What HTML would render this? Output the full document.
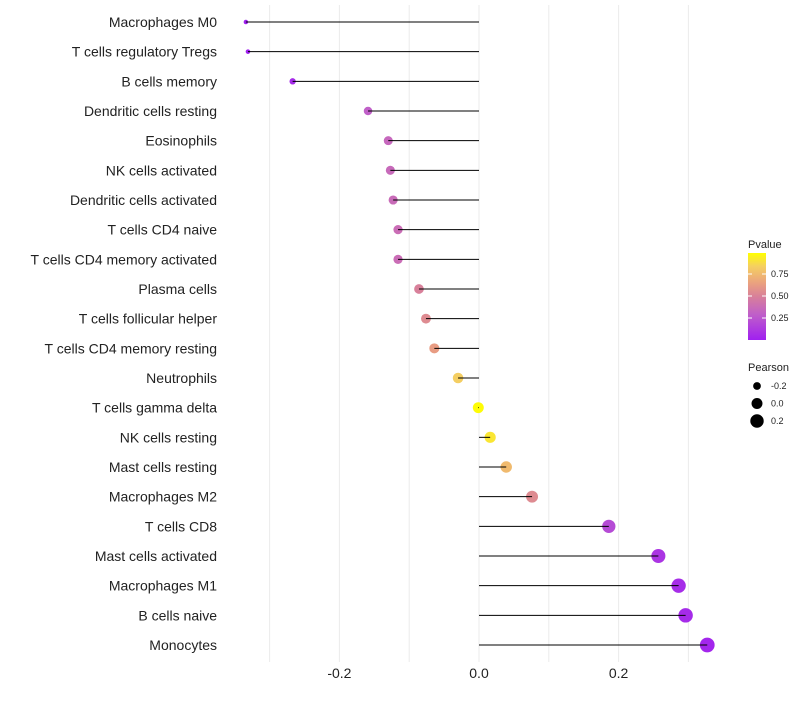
<!DOCTYPE html>
<html><head><meta charset="utf-8"><style>
body{margin:0;background:#fff;}
svg{font-family:"Liberation Sans",Arial,sans-serif;}
</style></head><body>
<svg id="c" width="800" height="700"></svg>
<script>
const categories=["Macrophages M0","T cells regulatory  Tregs","B cells memory","Dendritic cells resting","Eosinophils","NK cells activated","Dendritic cells activated","T cells CD4 naive","T cells CD4 memory activated","Plasma cells","T cells follicular helper","T cells CD4 memory resting","Neutrophils","T cells gamma delta","NK cells resting","Mast cells resting","Macrophages M2","T cells CD8","Mast cells activated","Macrophages M1","B cells naive","Monocytes"];
const pearson=[-0.334,-0.331,-0.267,-0.159,-0.130,-0.127,-0.123,-0.116,-0.116,-0.086,-0.076,-0.064,-0.030,-0.001,0.016,0.039,0.076,0.186,0.257,0.286,0.296,0.327];
const pvalue=[0.0,0.0,0.05,0.3,0.35,0.36,0.37,0.38,0.38,0.5,0.55,0.63,0.84,0.99,0.92,0.76,0.55,0.2,0.1,0.06,0.05,0.03];
const xTicks=[-0.2,0.0,0.2];
const xTickLabels=["-0.2","0.0","0.2"];
const xMinor=[-0.3,-0.1,0.1,0.3];
const pTicks=[0.25,0.5,0.75];
const sizeTicks=[-0.2,0.0,0.2];

const NS="http://www.w3.org/2000/svg",svg=document.getElementById('c');
function el(t,a,p){const e=document.createElementNS(NS,t);for(const k in a)e.setAttribute(k,a[k]);(p||svg).appendChild(e);return e;}
const x=v=>479+v*698;
const y=i=>22+i*(623/21);
const stops=[[0,[160,32,240]],[0.3,[192,96,200]],[0.5,[216,128,154]],[0.65,[234,160,128]],[0.85,[245,208,96]],[1,[255,255,0]]];
const col=p=>{for(let k=1;k<stops.length;k++){if(p<=stops[k][0]){const a=stops[k-1],b=stops[k],t=(p-a[0])/(b[0]-a[0]);const c=a[1].map((v,j)=>Math.round(v+(b[1][j]-v)*t));return `rgb(${c})`;}}return 'rgb(255,255,0)';};
const rad=v=>Math.sqrt(Math.max(1,30+75*v));
const grid=el('g',{});

xMinor.concat(xTicks).forEach(v=>{el('line',{x1:x(v),x2:x(v),y1:5,y2:662,stroke:'#ebebeb','stroke-width':1},grid);});
const ax=el('g',{});

xTicks.forEach((v,i)=>{const t=el('text',{x:x(v),y:678,'font-size':14,'text-anchor':'middle',fill:'#222'},ax);t.textContent=xTickLabels[i];});
categories.forEach((c,i)=>{
 const g=el('g',{});
 
 
 const t=el('text',{x:217,y:y(i)+5,'font-size':14,'text-anchor':'end',fill:'#222'},g);t.textContent=c;
 el('circle',{cx:x(pearson[i]),cy:y(i),r:rad(pearson[i]),fill:col(pvalue[i])},g);
 el('line',{x1:x(pearson[i]),x2:x(0),y1:y(i),y2:y(i),stroke:'#000','stroke-width':1},g);
});
const lg=el('g',{});

let t=el('text',{x:748,y:248,'font-size':11,fill:'#222'},lg);t.textContent='Pvalue';
const defs=el('defs',{});
const gr=el('linearGradient',{id:'pg',x1:0,y1:1,x2:0,y2:0},defs);
stops.forEach(s=>el('stop',{offset:s[0],'stop-color':col(s[0])},gr));
const py=p=>340-p*88;
el('rect',{x:748,y:253,width:18,height:87,fill:'url(#pg)'},lg);
pTicks.forEach(p=>{el('line',{x1:748,x2:752,y1:py(p),y2:py(p),stroke:'#fff'},lg);el('line',{x1:762,x2:766,y1:py(p),y2:py(p),stroke:'#fff'},lg);
 const s=el('text',{x:771,y:py(p)+3,'font-size':9,fill:'#222'},lg);s.textContent=p.toFixed(2);});
t=el('text',{x:748,y:371,'font-size':11,fill:'#222'},lg);t.textContent='Pearson';
sizeTicks.forEach((v,i)=>{const cy=386+i*17.5;el('circle',{cx:757,cy:cy,r:rad(v),fill:'#000'},lg);
 const s=el('text',{x:771,y:cy+3,'font-size':9,fill:'#222'},lg);s.textContent=v.toFixed(1);});
</script>
</body></html>
